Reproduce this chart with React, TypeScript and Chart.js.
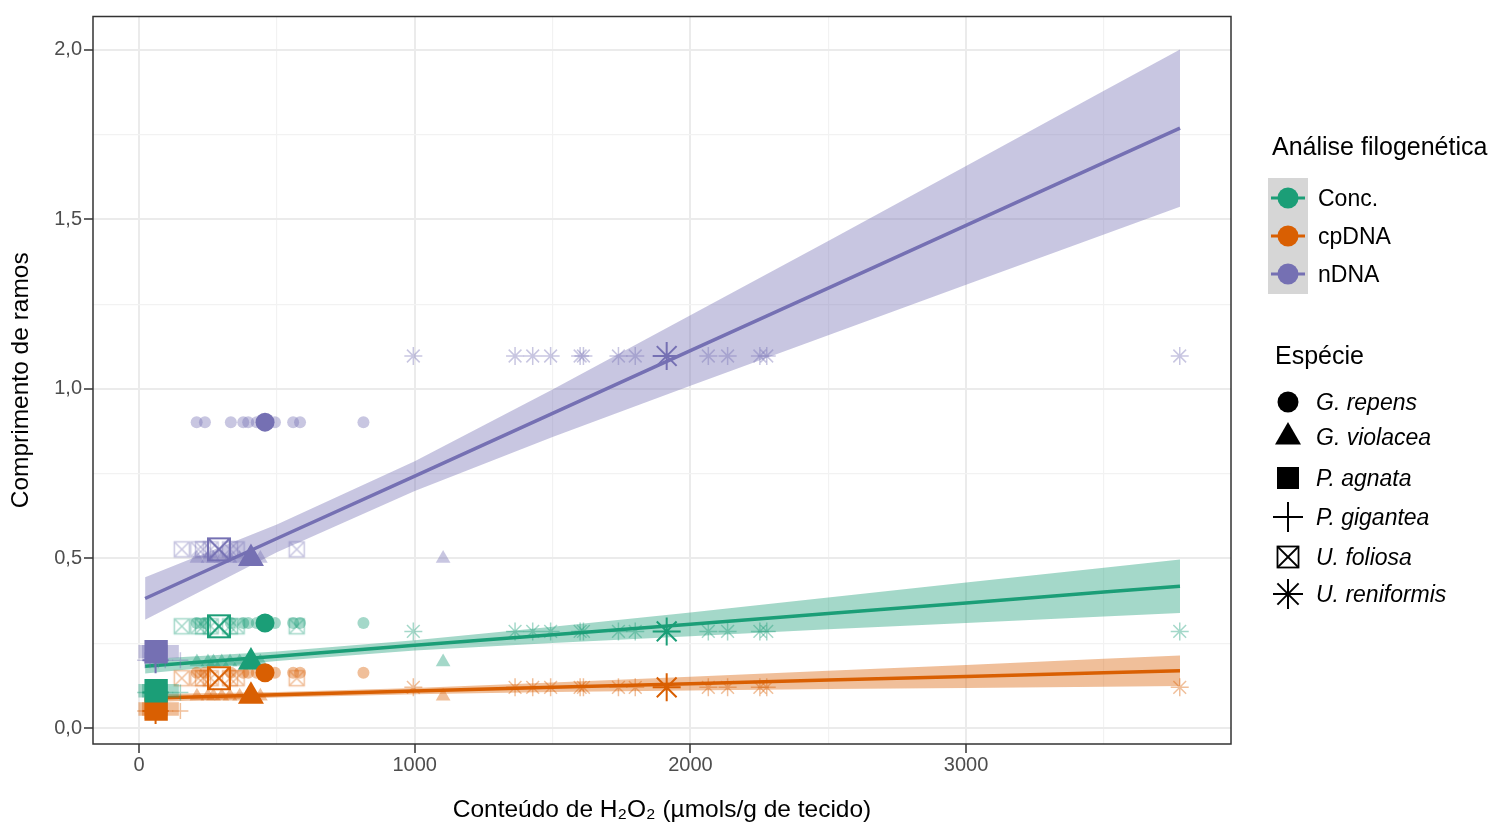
import React, { useEffect, useRef } from 'react';
import { Chart, registerables } from 'chart.js';

Chart.register(...registerables);

const FONT = "'Liberation Sans', Arial, Helvetica, sans-serif";

// ---- categories ----
const ANALYSES = ['Conc.', 'cpDNA', 'nDNA'];
const ANALYSIS_COLORS = ['#1B9E77', '#D95F02', '#7570B3'];
const SPECIES = ['G. repens', 'G. violacea', 'P. agnata', 'P. gigantea', 'U. foliosa', 'U. reniformis'];

// ---- axis ticks ----
const X_GRID = [0, 500, 1000, 1500, 2000, 2500, 3000, 3500];
const X_MAJOR = [0, 1000, 2000, 3000];
const X_LABELS = ['0', '1000', '2000', '3000'];
const Y_GRID = [0, 0.25, 0.5, 0.75, 1, 1.25, 1.5, 1.75, 2];
const Y_MAJOR = [0, 0.5, 1, 1.5, 2];
const Y_LABELS = ['0,0', '0,5', '1,0', '1,5', '2,0'];

// ---- H2O2 content of each sample, per species ----
const xGRepens = [209, 239, 333, 378, 396, 427, 493, 559, 584, 814];
const xGViolacea = [210, 250, 270, 300, 330, 365, 440, 1103];
const xPAgnata = [22, 35, 50, 65, 80, 120];
const xPGigantea = [22, 40, 55, 70, 95, 150];
const xUFoliosa = [155, 215, 232, 260, 330, 354, 572];
const xUReniformis = [995, 1364, 1428, 1493, 1600, 1612, 1739, 1800, 2065, 2135, 2252, 2277, 3775];

// ---- branch length per analysis [Conc., cpDNA, nDNA] ----
const yGRepens = [0.31, 0.163, 0.902];
const yGViolacea = [0.195, 0.094, 0.5];
const yPAgnata = [0.11, 0.056, 0.225];
const yPGigantea = [0.105, 0.05, 0.2];
const yUFoliosa = [0.3, 0.147, 0.527];
const yUReniformis = [0.285, 0.12, 1.097];

// ---- species mean H2O2 (large symbols) ----
const MEAN_X = [457, 406, 62, 60, 290, 1914];

// ---- fitted lines and confidence bands ----
const FIT_X = [22, 500, 1000, 1500, 2000, 2500, 3000, 3500, 3776];
const fitConc = [0.182, 0.212, 0.244, 0.275, 0.306, 0.338, 0.369, 0.401, 0.418];
const lowConc = [0.161, 0.198, 0.229, 0.251, 0.271, 0.291, 0.31, 0.329, 0.339];
const upConc = [0.203, 0.226, 0.259, 0.299, 0.341, 0.385, 0.429, 0.473, 0.497];
const fitCp = [0.088, 0.098, 0.109, 0.12, 0.131, 0.142, 0.152, 0.163, 0.169];
const lowCp = [0.076, 0.09, 0.1, 0.106, 0.111, 0.115, 0.118, 0.122, 0.124];
const upCp = [0.1, 0.106, 0.118, 0.134, 0.151, 0.169, 0.186, 0.204, 0.214];
const fitN = [0.382, 0.559, 0.743, 0.928, 1.113, 1.297, 1.482, 1.667, 1.769];
const lowN = [0.319, 0.518, 0.699, 0.858, 1.009, 1.158, 1.307, 1.455, 1.537];
const upN = [0.445, 0.6, 0.787, 0.998, 1.217, 1.436, 1.657, 1.879, 2.001];

const SPECIES_X = [xGRepens, xGViolacea, xPAgnata, xPGigantea, xUFoliosa, xUReniformis];
const SPECIES_Y = [yGRepens, yGViolacea, yPAgnata, yPGigantea, yUFoliosa, yUReniformis];
const FITS = [fitConc, fitCp, fitN];
const BANDS = [[lowConc, upConc], [lowCp, upCp], [lowN, upN]];

function rgba(hex: string, a: number) {
  const r = parseInt(hex.slice(1, 3), 16);
  const g = parseInt(hex.slice(3, 5), 16);
  const b = parseInt(hex.slice(5, 7), 16);
  return `rgba(${r},${g},${b},${a})`;
}

function boxX(color: string, side: number, lw: number): HTMLCanvasElement {
  const size = Math.ceil(side + 2 * lw + 2);
  const c = document.createElement('canvas');
  c.width = size;
  c.height = size;
  const g = c.getContext('2d')!;
  const o = (size - side) / 2;
  g.strokeStyle = color;
  g.lineWidth = lw;
  g.beginPath();
  g.rect(o, o, side, side);
  g.moveTo(o, o);
  g.lineTo(o + side, o + side);
  g.moveTo(o + side, o);
  g.lineTo(o, o + side);
  g.stroke();
  return c;
}

const isMajor = (v: number, majors: number[]) => majors.some((m) => Math.abs(m - v) < 1e-9);

const panelBorder = {
  id: 'panelBorder',
  afterDraw(chart: any) {
    const { ctx, chartArea: a } = chart;
    ctx.save();
    ctx.strokeStyle = '#333333';
    ctx.lineWidth = 1.5;
    ctx.strokeRect(a.left, a.top, a.right - a.left, a.bottom - a.top);
    ctx.restore();
  },
};

function Legend() {
  const cx = 1288;
  const keyY = [198, 236, 274];
  const spY = [402, 437, 478, 517, 557, 594];
  const t = (left: number, cy: number, text: string, size: number, italic = false, key?: string) => (
    <div
      key={key || text}
      style={{
        position: 'absolute',
        left,
        top: cy - 0.49 * size,
        fontSize: size,
        lineHeight: `${size}px`,
        fontStyle: italic ? 'italic' : 'normal',
        color: '#000',
        whiteSpace: 'nowrap',
        fontFamily: FONT,
      }}
    >
      {text}
    </div>
  );
  const d = 10.6;
  return (
    <>
      <svg width={1488} height={825} style={{ position: 'absolute', left: 0, top: 0, pointerEvents: 'none' }}>
        <rect x={1268} y={178} width={40} height={116} fill="#D6D6D6" />
        {ANALYSES.map((a, i) => (
          <g key={a}>
            <line x1={1271} x2={1305} y1={keyY[i]} y2={keyY[i]} stroke={ANALYSIS_COLORS[i]} strokeWidth={3} />
            <circle cx={cx} cy={keyY[i]} r={10.5} fill={ANALYSIS_COLORS[i]} />
          </g>
        ))}
        <circle cx={cx} cy={spY[0]} r={10.5} fill="#000" />
        <polygon points={`${cx},${spY[1] - 15} ${cx + 13},${spY[1] + 7.5} ${cx - 13},${spY[1] + 7.5}`} fill="#000" />
        <rect x={cx - 11} y={spY[2] - 11} width={22} height={22} fill="#000" />
        <g stroke="#000" strokeWidth={2}>
          <line x1={cx - 15} x2={cx + 15} y1={spY[3]} y2={spY[3]} />
          <line x1={cx} x2={cx} y1={spY[3] - 15} y2={spY[3] + 15} />
        </g>
        <g stroke="#000" strokeWidth={1.8} fill="none">
          <rect x={cx - 10.5} y={spY[4] - 10.5} width={21} height={21} />
          <line x1={cx - 10.5} y1={spY[4] - 10.5} x2={cx + 10.5} y2={spY[4] + 10.5} />
          <line x1={cx + 10.5} y1={spY[4] - 10.5} x2={cx - 10.5} y2={spY[4] + 10.5} />
        </g>
        <g stroke="#000" strokeWidth={2}>
          <line x1={cx - 15} x2={cx + 15} y1={spY[5]} y2={spY[5]} />
          <line x1={cx} x2={cx} y1={spY[5] - 15} y2={spY[5] + 15} />
          <line x1={cx - d} y1={spY[5] - d} x2={cx + d} y2={spY[5] + d} />
          <line x1={cx + d} y1={spY[5] - d} x2={cx - d} y2={spY[5] + d} />
        </g>
      </svg>
      {t(1272, 146, 'Análise filogenética', 25)}
      {ANALYSES.map((a, i) => t(1318, keyY[i], a, 23))}
      {t(1275, 355, 'Espécie', 25)}
      {SPECIES.map((s, i) => t(1316, spY[i], s, 23, true))}
    </>
  );
}

export default function App() {
  const ref = useRef<HTMLCanvasElement>(null);

  useEffect(() => {
    if (!ref.current) return;
    const datasets: any[] = [];

    // confidence bands
    BANDS.forEach(([low, up], a) => {
      datasets.push({
        data: FIT_X.map((x, i) => ({ x, y: low[i] })),
        borderColor: 'rgba(0,0,0,0)',
        borderWidth: 0,
        pointRadius: 0,
        fill: false,
        order: 4,
      });
      datasets.push({
        data: FIT_X.map((x, i) => ({ x, y: up[i] })),
        borderColor: 'rgba(0,0,0,0)',
        borderWidth: 0,
        pointRadius: 0,
        fill: '-1',
        backgroundColor: rgba(ANALYSIS_COLORS[a], 0.4),
        order: 4,
      });
    });

    // fitted lines
    FITS.forEach((fit, a) => {
      datasets.push({
        data: FIT_X.map((x, i) => ({ x, y: fit[i] })),
        borderColor: ANALYSIS_COLORS[a],
        borderWidth: 3.5,
        pointRadius: 0,
        fill: false,
        tension: 0,
        order: 3,
      });
    });

    // points
    const styles = ['circle', 'triangle', 'rect', 'cross', 'boxx', 'star'];
    const smallR = [6, 8.5, 9.5, 8, 7.5, 9];
    const largeR = [9.5, 15, 16.5, 13, 11, 14];
    SPECIES.forEach((_, s) => {
      ANALYSES.forEach((__, a) => {
        [false, true].forEach((big) => {
          const col = ANALYSIS_COLORS[a];
          const c = big ? col : rgba(col, 0.4);
          const st = styles[s];
          let pointStyle: any = st;
          const radius = big ? largeR[s] : smallR[s];
          if (st === 'boxx') pointStyle = boxX(c, big ? 22 : 15, big ? 2 : 1.5);
          const stroked = st === 'cross' || st === 'star';
          datasets.push({
            data: big
              ? [{ x: MEAN_X[s], y: SPECIES_Y[s][a] }]
              : SPECIES_X[s].map((x) => ({ x, y: SPECIES_Y[s][a] })),
            showLine: false,
            pointStyle,
            pointRadius: radius,
            pointHoverRadius: radius,
            pointBackgroundColor: stroked ? 'rgba(0,0,0,0)' : c,
            pointBorderColor: stroked ? c : 'rgba(0,0,0,0)',
            pointBorderWidth: stroked ? (big ? 2 : 1.5) : 0,
            order: big ? 1 : 2,
          });
        });
      });
    });

    const chart = new Chart(ref.current, {
      type: 'line',
      data: { datasets },
      plugins: [panelBorder],
      options: {
        animation: false,
        responsive: false,
        layout: { padding: { left: 0, top: 14, right: 257, bottom: 0 } },
        plugins: { legend: { display: false }, tooltip: { enabled: false } },
        scales: {
          x: {
            type: 'linear',
            min: -167,
            max: 3961,
            afterBuildTicks: (scale: any) => {
              scale.ticks = X_GRID.map((v) => ({ value: v }));
            },
            afterFit: (scale: any) => {
              scale.height = 81;
              scale.paddingLeft = 0;
              scale.paddingRight = 0;
            },
            ticks: {
              autoSkip: false,
              maxRotation: 0,
              padding: 0,
              color: '#4D4D4D',
              font: { family: FONT, size: 20 },
              callback: (v: any) => {
                const i = X_MAJOR.findIndex((m) => Math.abs(m - v) < 1e-9);
                return i >= 0 ? X_LABELS[i] : '';
              },
            },
            grid: {
              color: (ctx: any) => (isMajor(ctx.tick?.value, X_MAJOR) ? '#EBEBEB' : '#F2F2F2'),
              lineWidth: (ctx: any) => (isMajor(ctx.tick?.value, X_MAJOR) ? 2 : 1.2),
              tickLength: 9,
              tickColor: (ctx: any) => (isMajor(ctx.tick?.value, X_MAJOR) ? '#333333' : 'rgba(0,0,0,0)'),
              tickWidth: 1.5,
            },
            border: { display: false },
            title: {
              display: true,
              text: 'Conteúdo de H₂O₂ (µmols/g de tecido)',
              color: '#000',
              font: { family: FONT, size: 24.5 },
              padding: { top: 0, bottom: 0 },
            },
          },
          y: {
            type: 'linear',
            min: -0.047,
            max: 2.098,
            afterBuildTicks: (scale: any) => {
              scale.ticks = Y_GRID.map((v) => ({ value: v }));
            },
            afterFit: (scale: any) => {
              scale.width = 93;
              scale.paddingTop = 0;
              scale.paddingBottom = 0;
            },
            ticks: {
              autoSkip: false,
              padding: 2,
              color: '#4D4D4D',
              font: { family: FONT, size: 20 },
              callback: (v: any) => {
                const i = Y_MAJOR.findIndex((m) => Math.abs(m - v) < 1e-9);
                return i >= 0 ? Y_LABELS[i] : '';
              },
            },
            grid: {
              color: (ctx: any) => (isMajor(ctx.tick?.value, Y_MAJOR) ? '#EBEBEB' : '#F2F2F2'),
              lineWidth: (ctx: any) => (isMajor(ctx.tick?.value, Y_MAJOR) ? 2 : 1.2),
              tickLength: 9,
              tickColor: (ctx: any) => (isMajor(ctx.tick?.value, Y_MAJOR) ? '#333333' : 'rgba(0,0,0,0)'),
              tickWidth: 1.5,
            },
            border: { display: false },
            title: {
              display: true,
              text: 'Comprimento de ramos',
              color: '#000',
              font: { family: FONT, size: 24.5 },
              padding: { top: 7, bottom: 0 },
            },
          },
        },
      } as any,
    });

    return () => chart.destroy();
  }, []);

  return (
    <div style={{ position: 'fixed', left: 0, top: 0, width: 1488, height: 825, background: '#fff', fontFamily: FONT }}>
      <canvas ref={ref} width={1488} height={825} style={{ position: 'absolute', left: 0, top: 0, width: 1488, height: 825 }} />
      <Legend />
    </div>
  );
}
